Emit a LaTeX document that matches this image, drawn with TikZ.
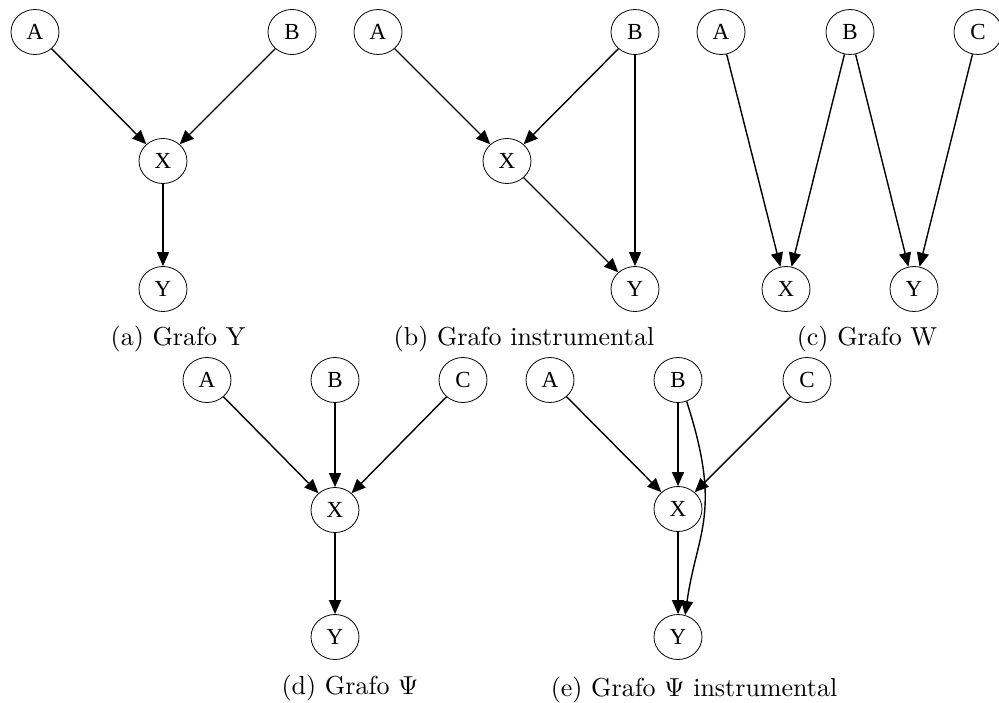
\documentclass[tikz,border=0pt]{standalone}
\usepackage{fontspec}
\newfontfamily\gvfont{Liberation Serif}
\newcommand\gvsize{\fontsize{23pt}{25pt}\selectfont}
\usetikzlibrary{shapes, arrows.meta}

\begin{document}
\begin{tikzpicture}[x=1pt, y=-1pt, >={Triangle[length=14pt, width=12pt]},
  var/.style={draw, ellipse, line width=.8pt, minimum width=48pt,
    minimum height=45pt, inner sep=0pt, font=\gvfont\gvsize},
  arr/.style={->, line width=1.4pt},
  subcap/.style={scale=2.6, inner sep=0pt}]
\useasboundingbox (0, 0) rectangle (999, 702);
% (a) Grafo Y
\node[var] at (35, 32)   (A1) {A};
\node[var] at (292, 32)  (B1) {B};
\node[var] at (163, 161) (X1) {X};
\node[var] at (163, 289) (Y1) {Y};
\path (A1) edge[arr] (X1);
\path (B1) edge[arr] (X1);
\path (X1) edge[arr] (Y1);
\node[subcap] at (178, 339) (capa) {(a) Grafo Y};
% (b) Grafo instrumental
\node[var] at (378, 32)  (A2) {A};
\node[var] at (635, 32)  (B2) {B};
\node[var] at (507, 161) (X2) {X};
\node[var] at (635, 289) (Y2) {Y};
\path (A2) edge[arr] (X2);
\path (B2) edge[arr] (X2);
\path (B2) edge[arr] (Y2);
\path (X2) edge[arr] (Y2);
\node[subcap] at (524, 339) (capb) {(b) Grafo instrumental};
% (c) Grafo W
\node[var] at (721, 32)  (A3) {A};
\node[var] at (850, 32)  (B3) {B};
\node[var] at (978, 32)  (C3) {C};
\node[var] at (786, 289) (X3) {X};
\node[var] at (914, 289) (Y3) {Y};
\path (A3) edge[arr] (X3.104);
\path (B3) edge[arr] (X3.76);
\path (B3) edge[arr] (Y3.104);
\path (C3) edge[arr] (Y3.76);
\node[subcap] at (867, 339) (capc) {(c) Grafo W};
% (d) Grafo Psi
\node[var] at (207, 380) (A4) {A};
\node[var] at (335, 380) (B4) {B};
\node[var] at (463, 380) (C4) {C};
\node[var] at (335, 510) (X4) {X};
\node[var] at (335, 637) (Y4) {Y};
\path (A4) edge[arr] (X4);
\path (B4) edge[arr] (X4);
\path (C4) edge[arr] (X4);
\path (X4) edge[arr] (Y4);
\node[subcap] at (350, 688) (capd) {(d) Grafo $\Psi$};
% (e) Grafo Psi instrumental
\node[var] at (550, 380) (A5) {A};
\node[var] at (678, 380) (B5) {B};
\node[var] at (807, 380) (C5) {C};
\node[var] at (678, 509) (X5) {X};
\node[var] at (678, 637) (Y5) {Y};
\path (A5) edge[arr] (X5);
\path (B5) edge[arr] (X5);
\path (C5) edge[arr] (X5);
\path (X5) edge[arr] (Y5);
\path (B5.-68) edge[arr, out=-72, in=82, out looseness=1.4, in looseness=1] (Y5.72);
\node[subcap] at (694, 690) (cape) {(e) Grafo $\Psi$ instrumental};
\end{tikzpicture}
\end{document}
